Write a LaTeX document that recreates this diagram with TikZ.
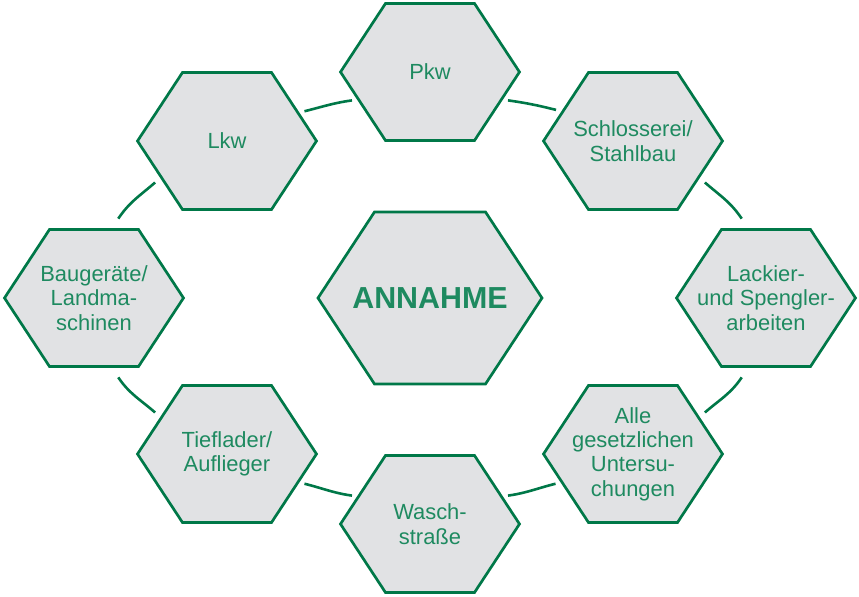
\documentclass[tikz,border=0pt]{standalone}
\usepackage{fontspec}
\setmainfont{Liberation Sans}
\usepackage{tikz}
\usetikzlibrary{calc,backgrounds}
\usepackage{xcolor}
\definecolor{hexgreen}{RGB}{0,120,72}
\definecolor{txtgreen}{RGB}{30,138,96}
\definecolor{hexgray}{RGB}{225,226,228}

\begin{document}
\begin{tikzpicture}[
  x=1bp,y=1bp,
  every node/.style={font=\fontsize{22}{24.5}\selectfont,text=txtgreen,align=center},
  station/.style={circle,minimum size=166bp,inner sep=0pt,outer sep=0pt},
  hexline/.style={draw=hexgreen,fill=hexgray,line width=2.7bp},
  link/.style={draw=hexgreen,line width=2.6bp}
]
  \useasboundingbox (-430,-299) rectangle (429,298);

  % Centre
  \node[station] (annahme) at (0,0) {\fontsize{30.5}{34}\selectfont\bfseries ANNAHME};

  % Ring of stations (clockwise from top)
  \node[station] (pkw)  at (0,226)     {Pkw};
  \node[station] (schl) at (203,157)   {Schlosserei/\\Stahlbau};
  \node[station] (lack) at (336,0)     {Lackier-\\und Spengler-\\arbeiten};
  \node[station] (alle) at (203,-156)  {Alle\\gesetzlichen\\Untersu-\\chungen};
  \node[station] (wasch) at (0,-226)   {Wasch-\\straße};
  \node[station] (tief) at (-203,-156) {Tieflader/\\Auflieger};
  \node[station] (bau)  at (-336,0)    {Baugeräte/\\Landma-\\schinen};
  \node[station] (lkw)  at (-203,157)  {Lkw};

  % Hexagons behind the labels
  \begin{scope}[on background layer]
    \foreach \n in {pkw,schl,lack,alle,wasch,tief,bau,lkw}
      \draw[hexline] ($(\n)+(-89.5,0)$) -- ++(45,68.5) -- ++(89,0) -- ++(45,-68.5)
        -- ++(-45,-68.5) -- ++(-89,0) -- cycle;
    \draw[hexline] ($(annahme)+(-112,0)$) -- ++(56.5,86) -- ++(111,0) -- ++(56.5,-86)
      -- ++(-56.5,-86) -- ++(-111,0) -- cycle;
  \end{scope}

  % Ring links
  \draw[link] (lkw.21)   to[out=14,in=188]   (pkw.200);
  \draw[link] (pkw.340)  to[out=352,in=166]  (schl.158);
  \draw[link] (schl.330) to[out=319,in=124]  (lack.107);
  \draw[link] (lack.253) to[out=236,in=41]   (alle.30);
  \draw[link] (alle.201) to[out=194,in=8]    (wasch.20);
  \draw[link] (wasch.160) to[out=172,in=346] (tief.339);
  \draw[link] (tief.150) to[out=139,in=304]  (bau.287);
  \draw[link] (bau.73)   to[out=56,in=221]   (lkw.210);
\end{tikzpicture}
\end{document}
